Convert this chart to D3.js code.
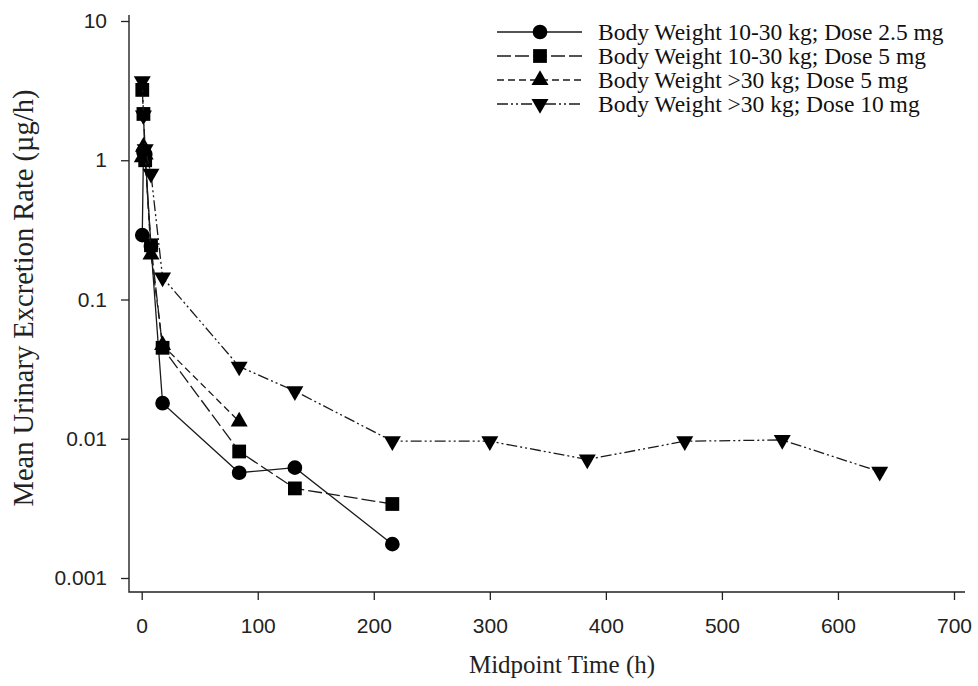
<!DOCTYPE html>
<html lang="en">

<head>
    <meta charset="UTF-8">
    <title>Urinary Excretion Rate</title>
    <script src="https://d3js.org/d3.v7.min.js"></script>
    <style>
        body {
            margin: 0;
            background: #fff;
        }

        .tick text {
            font-family: "Liberation Sans", Arial, sans-serif;
            font-size: 21px;
            fill: #222;
        }

        .title {
            font-family: "Liberation Serif", "Times New Roman", serif;
            fill: #222;
        }

        .legend text {
            font-family: "Liberation Serif", "Times New Roman", serif;
            font-size: 23.5px;
            fill: #111;
        }

        .series path.line {
            fill: none;
            stroke: #1a1a1a;
            stroke-width: 1.3px;
        }
    </style>
</head>

<body>
    <svg id="chart"></svg>
    <script>
        // Midpoint times (h) and mean rates (ug/h) for each group
        const circleTimes = [0.5, 1.5, 3, 8, 18, 84, 132, 216];
        const circleRates = [0.29, 1.15, 1.1, 0.24, 0.018, 0.0057, 0.0062, 0.00175];

        const squareTimes = [0.5, 1.5, 3, 8, 18, 84, 132, 216];
        const squareRates = [3.2, 2.15, 1.0, 0.245, 0.045, 0.0081, 0.0044, 0.0034];

        const triUpTimes = [0.5, 1.5, 3, 8, 18, 84];
        const triUpRates = [1.05, 1.25, 1.1, 0.21, 0.047, 0.0133];

        const triDownTimes = [0.5, 1.5, 3, 8, 18, 84, 132, 216, 300, 384, 468, 552, 636];
        const triDownRates = [3.7, 2.1, 1.2, 0.8, 0.144, 0.033, 0.022, 0.0096, 0.0096, 0.0071, 0.0096, 0.0098, 0.0058];

        const seriesNames = [
            "Body Weight 10-30 kg; Dose 2.5 mg",
            "Body Weight 10-30 kg; Dose 5 mg",
            "Body Weight >30 kg; Dose 5 mg",
            "Body Weight >30 kg; Dose 10 mg"
        ];

        const yTicks = [0.001, 0.01, 0.1, 1, 10];
        const xTicks = [0, 100, 200, 300, 400, 500, 600, 700];

        const width = 978;
        const height = 686;

        const svg = d3.select("#chart")
            .attr("width", width)
            .attr("height", height);

        const x = d3.scaleLinear().domain([0, 700]).range([141.7, 954]);
        const y = d3.scaleLog().domain([0.001, 10]).range([578, 21]);

        // axes
        const yAxis = svg.append("g")
            .attr("transform", "translate(129,0)")
            .call(d3.axisLeft(y).tickValues(yTicks).tickSize(8).tickPadding(14)
                .tickFormat(d => d3.format("~g")(d)));
        yAxis.select(".domain").remove();
        yAxis.selectAll(".tick line").attr("stroke", "#222").attr("stroke-width", 1.3);

        const xAxis = svg.append("g")
            .attr("transform", "translate(0,592)")
            .call(d3.axisBottom(x).tickValues(xTicks).tickSize(8).tickPadding(18));
        xAxis.select(".domain").remove();
        xAxis.selectAll(".tick line").attr("stroke", "#222").attr("stroke-width", 1.3);

        // frame lines (left and bottom)
        svg.append("path")
            .attr("d", "M129,15V592H965")
            .attr("fill", "none")
            .attr("stroke", "#222")
            .attr("stroke-width", 1.4);

        // axis titles
        svg.append("text")
            .attr("class", "title")
            .attr("x", 562)
            .attr("y", 673)
            .attr("text-anchor", "middle")
            .style("font-size", "25px")
            .text("Midpoint Time (h)");

        svg.append("text")
            .attr("class", "title")
            .attr("transform", "translate(33,298) rotate(-90)")
            .attr("text-anchor", "middle")
            .style("font-size", "28.5px")
            .text("Mean Urinary Excretion Rate (µg/h)");

        // series definitions
        const groups = [
            { times: circleTimes, rates: circleRates, symbol: d3.symbolCircle, size: 170, rotate: 0, dash: null },
            { times: squareTimes, rates: squareRates, symbol: d3.symbolSquare, size: 190, rotate: 0, dash: "14,4" },
            { times: triUpTimes, rates: triUpRates, symbol: d3.symbolTriangle, size: 125, rotate: 0, dash: "7,4" },
            { times: triDownTimes, rates: triDownRates, symbol: d3.symbolTriangle, size: 125, rotate: 180, dash: "11,3,2,3,2,3" }
        ];

        const line = d3.line()
            .x(d => x(d[0]))
            .y(d => y(d[1]));

        groups.forEach((g, i) => {
            const pts = g.times.map((t, k) => [t, g.rates[k]]);
            const s = svg.append("g").attr("class", "series");

            s.append("path")
                .attr("class", "line")
                .attr("d", line(pts))
                .attr("stroke-dasharray", g.dash);

            s.selectAll(".mark")
                .data(pts)
                .enter().append("path")
                .attr("class", "mark")
                .attr("d", d3.symbol().type(g.symbol).size(g.size))
                .attr("transform", d => `translate(${x(d[0])},${y(d[1])}) rotate(${g.rotate})`)
                .attr("fill", "#000");
        });

        // legend
        const legend = svg.append("g").attr("class", "legend");
        const rowY = [32, 56, 80, 104];

        groups.forEach((g, i) => {
            const row = legend.append("g").attr("transform", `translate(0,${rowY[i]})`);
            row.append("line")
                .attr("x1", 497).attr("x2", 582)
                .attr("y1", 0).attr("y2", 0)
                .attr("stroke", "#1a1a1a")
                .attr("stroke-width", 1.3)
                .attr("stroke-dasharray", g.dash);
            row.append("path")
                .attr("d", d3.symbol().type(g.symbol).size(g.size))
                .attr("transform", `translate(540,0) rotate(${g.rotate})`)
                .attr("fill", "#000");
            row.append("text")
                .attr("x", 598)
                .attr("y", 0)
                .attr("dy", "0.33em")
                .text(seriesNames[i]);
        });
    </script>
</body>

</html>
